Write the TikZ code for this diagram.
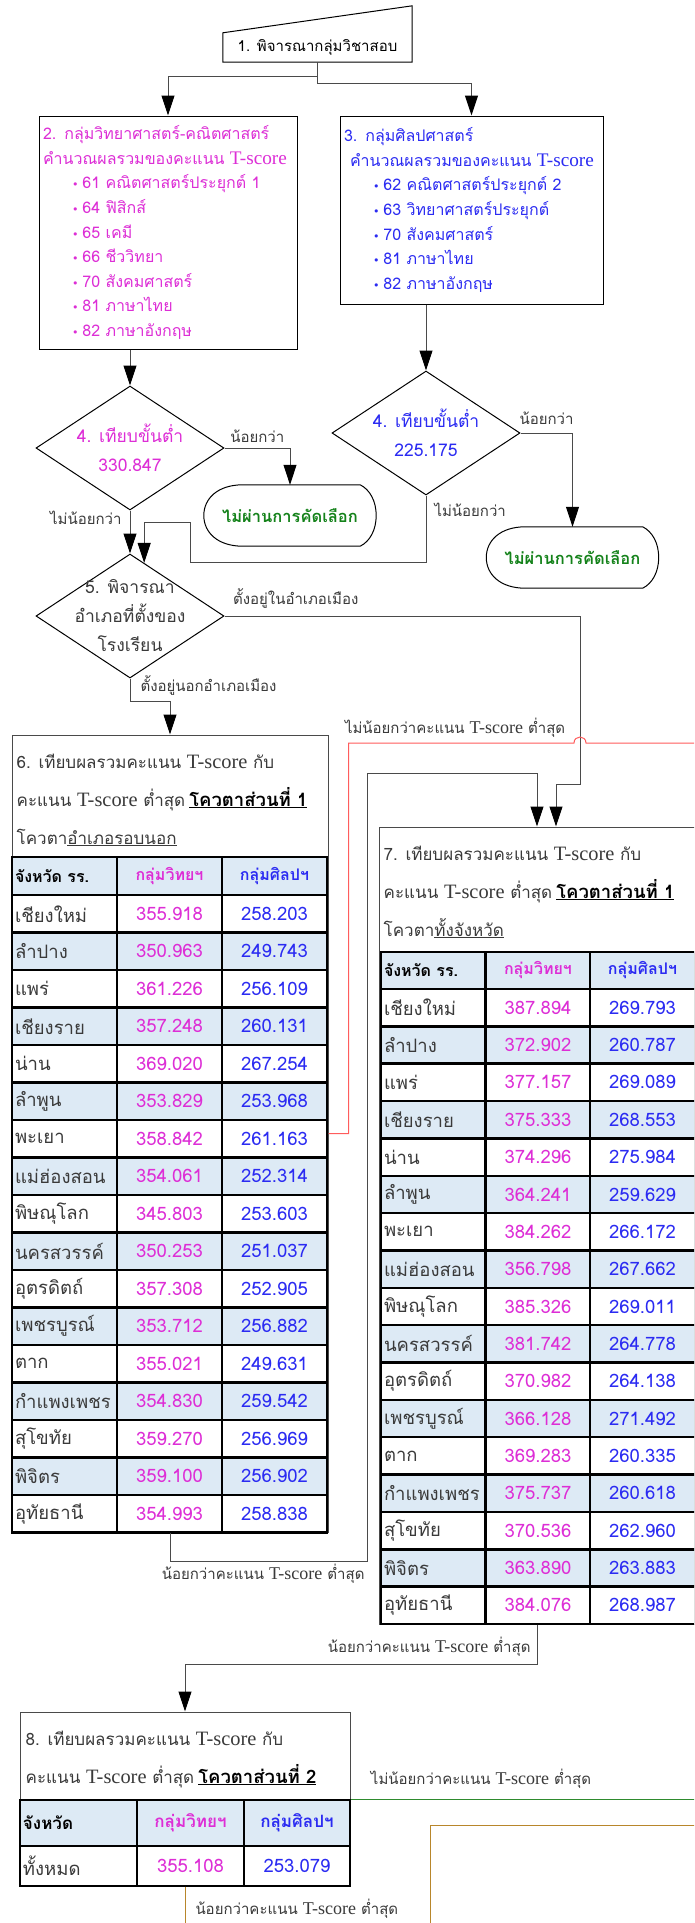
\documentclass[tikz,border=0pt]{standalone}
\usepackage{fontspec}
\setmainfont{Loma}[Script=Thai]
\newfontfamily\latinfont{Liberation Serif}[Scale=1.2]
\newfontfamily\symfont{DejaVu Sans}
\usetikzlibrary{arrows.meta,shapes.geometric,calc}

\definecolor{sciMag}{HTML}{DD2ED6}
\definecolor{artBlue}{HTML}{2B2BF2}
\definecolor{failGreen}{HTML}{14821A}
\definecolor{rowBlue}{HTML}{DDEAF5}
\definecolor{lineGray}{HTML}{4A4A4A}
\definecolor{textGray}{HTML}{3A3A3A}
\definecolor{hopRed}{HTML}{FF5C5C}
\definecolor{passGreen}{HTML}{2E8B2E}
\definecolor{lowBrown}{HTML}{B8862B}

\newcommand{\tsc}{{\latinfont T-score}}
\newcommand{\bul}{\hspace*{29pt}{\symfont\fontsize{11}{11}\selectfont •}\hspace{4pt}}
\newcommand{\quotapart}[1]{\hspace{4pt}{\color{black}\bfseries\fontsize{18.5}{38}\selectfont\underline{#1}}}

\begin{document}
\begin{tikzpicture}[x=1pt, y=-1pt,
    >={Triangle[width=13pt,length=20pt,color=black]},
    flow/.style = {draw=lineGray, line width=1pt, ->},
    groupbox/.style = {rectangle, draw=black, line width=1pt, align=left,
                       inner sep=4pt, font=\fontsize{16}{24.6}\selectfont},
    check/.style = {diamond, draw=black, line width=1pt, minimum width=188pt,
                    minimum height=124pt, inner sep=0pt},
    decision/.style = {align=center, inner sep=0pt, font=\fontsize{17.5}{29}\selectfont},
    endcap/.style = {rectangle, minimum width=172pt, minimum height=61pt, inner sep=0pt,
                     text=failGreen, font=\bfseries\fontsize{16.5}{18}\selectfont},
    note/.style = {text=textGray, inner sep=2pt, font=\fontsize{15}{18}\selectfont},
    panel/.style = {rectangle, draw=lineGray, line width=1pt, minimum width=316pt,
                    minimum height=797pt, inner sep=0pt},
    headtext/.style = {align=left, text=textGray, inner sep=0pt,
                       font=\fontsize{17}{38}\selectfont},
    cell/.style = {rectangle, draw=black, line width=2.5pt, minimum width=105pt,
                   minimum height=37.5pt, inner sep=3pt, font=\fontsize{18.5}{20}\selectfont},
    namecell/.style = {cell, text width=99pt, align=left, text=textGray},
    scicell/.style = {cell, text=sciMag},
    artcell/.style = {cell, text=artBlue},
    headcell/.style = {fill=rowBlue, font=\bfseries\fontsize{16}{18}\selectfont}]
  \clip (0,0) rectangle (694,1923);
  \fill[white] (0,0) rectangle (694,1923);

  % step 1
  \node (consider) [rectangle, minimum width=189pt, minimum height=29pt, inner sep=0pt,
                    font=\fontsize{15}{18}\selectfont] at (317.5,47.5) {1. พิจารณากลุ่มวิชาสอบ};
  \draw[line width=1pt] (consider.south west) -- (consider.south east)
    -- ([yshift=27pt]consider.north east) -- (consider.north west) -- cycle;

  % subject groups
  \node (sci) [groupbox, text=sciMag, text width=250pt, minimum height=233pt] at (168,232.5)
    {2. กลุ่มวิทยาศาสตร์-คณิตศาสตร์\\ คำนวณผลรวมของคะแนน \tsc\\
     \bul 61 คณิตศาสตร์ประยุกต์ 1\\ \bul 64 ฟิสิกส์\\ \bul 65 เคมี\\ \bul 66 ชีววิทยา\\
     \bul 70 สังคมศาสตร์\\ \bul 81 ภาษาไทย\\ \bul 82 ภาษาอังกฤษ};
  \node (art) [groupbox, text=artBlue, text width=255pt, minimum height=188pt] at (471.5,210)
    {3. กลุ่มศิลปศาสตร์\\ \hspace*{6pt}คำนวณผลรวมของคะแนน \tsc\\
     \bul 62 คณิตศาสตร์ประยุกต์ 2\\ \bul 63 วิทยาศาสตร์ประยุกต์\\ \bul 70 สังคมศาสตร์\\
     \bul 81 ภาษาไทย\\ \bul 82 ภาษาอังกฤษ};

  % minimum checks
  \node (sciMin) [check] at (130,448) {};
  \node (sciMinText) [decision, text=sciMag] at (sciMin) {4. เทียบขั้นต่ำ\\ 330.847};
  \node (artMin) [check] at (426,433) {};
  \node (artMinText) [decision, text=artBlue] at (artMin) {4. เทียบขั้นต่ำ\\ 225.175};
  \node (district) [check] at (130,616) {};
  \node (districtText) [decision, text=textGray] at (district)
    {5. พิจารณา\\ อำเภอที่ตั้งของ\\ โรงเรียน};

  \node (sciFail) [endcap] at (290,515.5) {ไม่ผ่านการคัดเลือก};
  \node (artFail) [endcap] at (572.5,557.5) {ไม่ผ่านการคัดเลือก};
  \foreach \t in {sciFail,artFail}
    \draw[line width=1pt] ([xshift=39pt]\t.north west) -- ([xshift=-16pt]\t.north east)
      .. controls +(10,5) and +(0,-14) .. (\t.east)
      .. controls +(0,14) and +(10,-5) .. ([xshift=-16pt]\t.south east)
      -- ([xshift=39pt]\t.south west)
      .. controls +(-25,0) and +(0,17) .. (\t.west)
      .. controls +(0,-17) and +(-25,0) .. ([xshift=39pt]\t.north west);

  % quota panels
  \node (quotaOut) [panel] at (170,1133.5) {};
  \node (outHead) [headtext, anchor=north west] at ([xshift=5pt,yshift=-19pt]quotaOut.north west)
    {6. เทียบผลรวมคะแนน \tsc\ กับ\\
     คะแนน \tsc\ ต่ำสุด\quotapart{โควตาส่วนที่ 1}\\
     โควตา\underline{อำเภอรอบนอก}};
  \node (quotaProv) [panel] at (537,1225.5) {};
  \node (provHead) [headtext, anchor=north west] at ([xshift=5pt,yshift=-19pt]quotaProv.north west)
    {7. เทียบผลรวมคะแนน \tsc\ กับ\\
     คะแนน \tsc\ ต่ำสุด\quotapart{โควตาส่วนที่ 1}\\
     โควตา\underline{ทั้งจังหวัด}};
  \node (quotaTwo) [panel, minimum width=330pt, minimum height=174pt] at (185,1799) {};
  \node (twoHead) [headtext, anchor=north west] at ([xshift=6pt,yshift=-19pt]quotaTwo.north west)
    {8. เทียบผลรวมคะแนน \tsc\ กับ\\
     คะแนน \tsc\ ต่ำสุด\quotapart{โควตาส่วนที่ 2}};

  % table of step 6
  \node (outH1) [namecell, headcell, text=black, minimum height=38pt] at (64.5,876) {จังหวัด รร.};
  \node (outH2) [scicell, headcell, minimum height=38pt] at (169.5,876) {กลุ่มวิทยฯ};
  \node (outH3) [artcell, headcell, minimum height=38pt] at (274.5,876) {กลุ่มศิลปฯ};
  \foreach \prov/\sci/\art [count=\r] in {เชียงใหม่/355.918/258.203, ลำปาง/350.963/249.743,
      แพร่/361.226/256.109, เชียงราย/357.248/260.131, น่าน/369.020/267.254,
      ลำพูน/353.829/253.968, พะเยา/358.842/261.163, แม่ฮ่องสอน/354.061/252.314,
      พิษณุโลก/345.803/253.603, นครสวรรค์/350.253/251.037, อุตรดิตถ์/357.308/252.905,
      เพชรบูรณ์/353.712/256.882, ตาก/355.021/249.631, กำแพงเพชร/354.830/259.542,
      สุโขทัย/359.270/256.969, พิจิตร/359.100/256.902, อุทัยธานี/354.993/258.838} {
    \pgfmathsetmacro\rowy{895+(\r-0.5)*37.5}
    \ifodd\r \def\shade{white}\else \def\shade{rowBlue}\fi
    \node (outP\r) [namecell, fill=\shade] at (64.5,\rowy) {\prov};
    \node (outS\r) [scicell, fill=\shade] at (169.5,\rowy) {\sci};
    \node (outA\r) [artcell, fill=\shade] at (274.5,\rowy) {\art};
  }

  % table of step 7
  \node (provH1) [namecell, headcell, text=black, minimum height=37pt] at (433.5,970.5) {จังหวัด รร.};
  \node (provH2) [scicell, headcell, minimum height=37pt] at (538,970.5) {กลุ่มวิทยฯ};
  \node (provH3) [artcell, headcell, minimum height=37pt] at (642.5,970.5) {กลุ่มศิลปฯ};
  \foreach \prov/\sci/\art [count=\r] in {เชียงใหม่/387.894/269.793, ลำปาง/372.902/260.787,
      แพร่/377.157/269.089, เชียงราย/375.333/268.553, น่าน/374.296/275.984,
      ลำพูน/364.241/259.629, พะเยา/384.262/266.172, แม่ฮ่องสอน/356.798/267.662,
      พิษณุโลก/385.326/269.011, นครสวรรค์/381.742/264.778, อุตรดิตถ์/370.982/264.138,
      เพชรบูรณ์/366.128/271.492, ตาก/369.283/260.335, กำแพงเพชร/375.737/260.618,
      สุโขทัย/370.536/262.960, พิจิตร/363.890/263.883, อุทัยธานี/384.076/268.987} {
    \pgfmathsetmacro\rowy{989+(\r-0.5)*37.35}
    \ifodd\r \def\shade{white}\else \def\shade{rowBlue}\fi
    \node (provP\r) [namecell, fill=\shade, minimum height=37.35pt] at (433.5,\rowy) {\prov};
    \node (provS\r) [scicell, fill=\shade, minimum height=37.35pt] at (538,\rowy) {\sci};
    \node (provA\r) [artcell, fill=\shade, minimum height=37.35pt] at (642.5,\rowy) {\art};
  }

  % table of step 8
  \node (twoH1) [namecell, headcell, text=black, text width=111pt, minimum width=117pt,
                 minimum height=46pt, font=\bfseries\fontsize{17}{18}\selectfont] at (78.5,1823) {จังหวัด};
  \node (twoH2) [scicell, headcell, minimum width=107pt, minimum height=46pt,
                 font=\bfseries\fontsize{17}{18}\selectfont] at (190.5,1823) {กลุ่มวิทยฯ};
  \node (twoH3) [artcell, headcell, minimum width=106pt, minimum height=46pt,
                 font=\bfseries\fontsize{17}{18}\selectfont] at (297,1823) {กลุ่มศิลปฯ};
  \node (twoP1) [namecell, text width=111pt, minimum width=117pt, minimum height=40pt] at (78.5,1866) {ทั้งหมด};
  \node (twoS1) [scicell, minimum width=107pt, minimum height=40pt] at (190.5,1866) {355.108};
  \node (twoA1) [artcell, minimum width=106pt, minimum height=40pt] at (297,1866) {253.079};

  % connectors
  \draw[flow] (consider.south) -- ++(0,14) -| (sci.north);
  \draw[flow] (consider.south) -- ++(0,21) -| (art.north);
  \draw[flow] (sciMin.north |- sci.south) -- (sciMin.north);
  \draw[flow] (artMin.north |- art.south) -- (artMin.north);
  \draw[flow] (sciMin.east) -| node[note, above=3pt, pos=0.25] {น้อยกว่า} (sciFail.north);
  \draw[flow] (artMin.east) -| node[note, above=6pt, pos=0.25] {น้อยกว่า} (artFail.north);
  \draw[flow] (sciMin.south) -- node[note, left=6pt, pos=0.18] {ไม่น้อยกว่า} (district.north);
  \draw[flow] (artMin.south) -- node[note, right=6pt, pos=0.22] {ไม่น้อยกว่า} ++(0,67)
    -| ++(-236,-40) -| ($(district.north)!0.15!(district.east)$);
  \draw[flow] (district.east) -| node[note, above=5pt, pos=0.1] {ตั้งอยู่ในอำเภอเมือง} ++(356,168)
    -| ([xshift=19pt]quotaProv.north);
  \draw[flow] (district.south) -- node[note, right=8pt, pos=0.3] {ตั้งอยู่นอกอำเภอเมือง} ++(0,23)
    -| (quotaOut.north);

  \coordinate (hopL) at (574,743);
  \coordinate (hopR) at (586,743);
  \coordinate (offRed) at (710,743);
  \draw[hopRed, line width=1pt] (quotaOut.east) -- ++(20,0)
    |- node[note, pos=0.5, anchor=south west, xshift=-6pt, yshift=3pt]
       {ไม่น้อยกว่าคะแนน \tsc\ ต่ำสุด} (hopL)
    .. controls ([yshift=8pt]hopL) and ([yshift=8pt]hopR) .. (hopR) -- (offRed);
  \draw[flow] (quotaOut.south) -- ++(0,29)
    -| node[note, pos=0.5, below left] {น้อยกว่าคะแนน \tsc\ ต่ำสุด} ++(197,-788)
    -| (quotaProv.north);
  \draw[flow] (quotaProv.south) -- node[note, left=4pt, pos=0.55] {น้อยกว่าคะแนน \tsc\ ต่ำสุด} ++(0,40)
    -| (quotaTwo.north);

  \coordinate (offGreen) at (710,1799);
  \draw[passGreen, line width=1pt] (quotaTwo.east)
    -- node[note, pos=0.05, anchor=south west, yshift=8pt] {ไม่น้อยกว่าคะแนน \tsc\ ต่ำสุด} (offGreen);
  \coordinate (offBrown) at (185,1930);
  \draw[lowBrown, line width=1pt] (quotaTwo.south)
    -- node[note, pos=0.5, right=8pt] {น้อยกว่าคะแนน \tsc\ ต่ำสุด} (offBrown);
  \coordinate (brownIn) at (710,1825);
  \coordinate (brownOut) at (430,1930);
  \draw[lowBrown, line width=1pt] (brownIn) -| (brownOut);
\end{tikzpicture}
\end{document}
